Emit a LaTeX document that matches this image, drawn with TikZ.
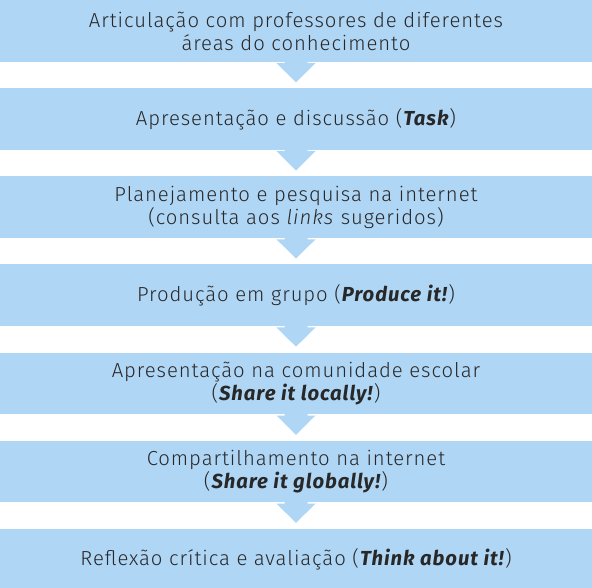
\documentclass[tikz,border=0pt]{standalone}
\usepackage{fontspec}
\setmainfont{Fira Sans Light}[LetterSpace=4.6,ItalicFont={Fira Sans Light Italic},BoldFont={Fira Sans Bold},BoldItalicFont={Fira Sans Bold Italic}]
\usetikzlibrary{positioning}
\definecolor{bandblue}{RGB}{176,214,245}
\definecolor{txt}{RGB}{40,40,40}
\tikzset{band/.style={fill=bandblue,minimum width=592pt,minimum height=61.7pt,inner sep=0pt,align=center,text=txt,font=\fontsize{20.3}{23}\selectfont}}

\begin{document}
\begin{tikzpicture}[x=1pt,y=1pt]
    \useasboundingbox (0,0) rectangle (592,-588);
    \node[band,anchor=north] (s1) at (296,0) {Articulação com professores de diferentes\\áreas do conhecimento};
    \node[band,below=26pt of s1] (s2) {Apresentação e discussão (\textbf{\textit{Task}})};
    \node[band,below=26pt of s2] (s3) {Planejamento e pesquisa na internet\\(consulta aos \textit{links} sugeridos)};
    \node[band,below=26pt of s3] (s4) {Produção em grupo (\textbf{\textit{Produce it!}})};
    \node[band,below=26pt of s4] (s5) {Apresentação na comunidade escolar\\(\textbf{\textit{Share it locally!}})};
    \node[band,below=26pt of s5] (s6) {Compartilhamento na internet\\(\textbf{\textit{Share it globally!}})};
    \node[band,below=26pt of s6] (s7) {Reflexão crítica e avaliação (\textbf{\textit{Think about it!}})};
    % arrows between the steps
    \foreach \a/\b in {s1/s2,s2/s3,s3/s4,s4/s5,s5/s6,s6/s7}{
        \path (\a.south) coordinate (p) (\b.north) coordinate (q);
        \fill[bandblue] ([xshift=-11.5pt,yshift=0.5pt]p) -- ([xshift=-11.5pt,yshift=-1pt]p) -- ([xshift=-19.5pt,yshift=-1pt]p)
            -- ([yshift=5.7pt]q) -- ([xshift=19.5pt,yshift=-1pt]p) -- ([xshift=11.5pt,yshift=-1pt]p) -- ([xshift=11.5pt,yshift=0.5pt]p) -- cycle;
    }
\end{tikzpicture}
\end{document}
